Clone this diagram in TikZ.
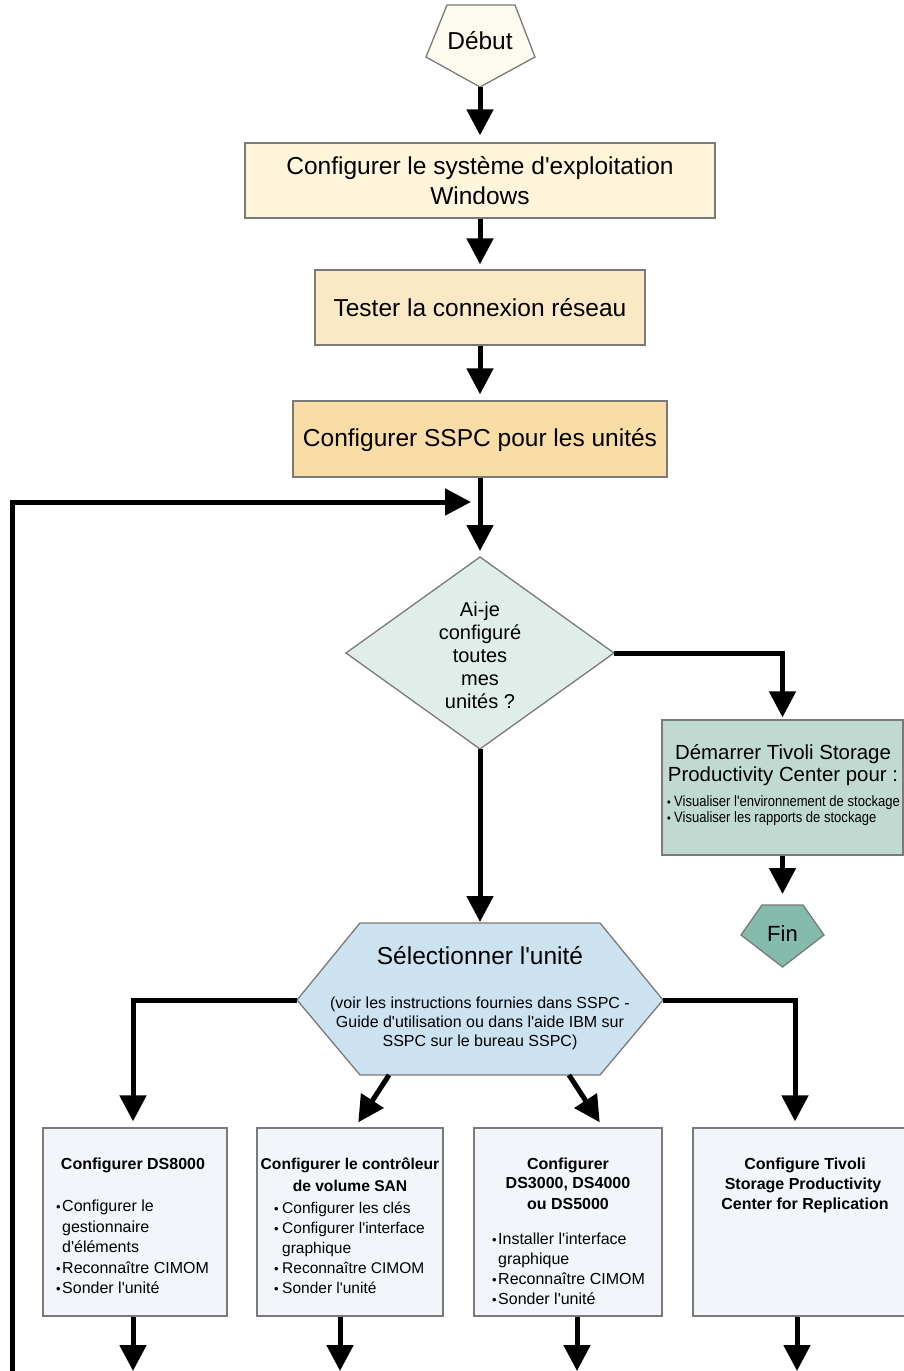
\documentclass[tikz,border=0pt]{standalone}
\usepackage{fontspec}
\setmainfont{Liberation Sans}[Ligatures=TeXOff]
\newfontfamily\narrowfont{Liberation Sans}[FakeStretch=0.87,Ligatures=TeXOff]
\usetikzlibrary{arrows.meta}
\newcommand\fsz[1]{\fontsize{#1}{#1}\selectfont}
\newcommand\bulA{\makebox[6pt][l]{\raisebox{0pt}{\fsz{13}•}}}
\newcommand\bulB{\makebox[8pt][l]{\raisebox{0pt}{\fsz{13}•}}}
\newcommand\bulN{\makebox[7pt][l]{\raisebox{0pt}{\fsz{12}•}}}
\definecolor{bordercol}{HTML}{7A7A7A}
\definecolor{debutfill}{HTML}{FDFBEF}
\definecolor{boxone}{HTML}{FEF5DA}
\definecolor{boxtwo}{HTML}{FBE9C6}
\definecolor{boxthree}{HTML}{F8DDA6}
\definecolor{diafill}{HTML}{E1EDE8}
\definecolor{demfill}{HTML}{C0DAD1}
\definecolor{finfill}{HTML}{84BBAC}
\definecolor{hexfill}{HTML}{CDE2F1}
\definecolor{lowfill}{HTML}{F2F5FA}
\tikzset{
  shapeline/.style={draw=bordercol, line width=1.3pt},
  box/.style={shapeline, rectangle, inner sep=0pt},
  arr/.style={line width=5pt, -{Triangle[length=26pt,width=26pt]}},
  tc/.style={inner sep=0pt, anchor=base},
  tl/.style={inner sep=0pt, anchor=base west},
}
\begin{document}
\begin{tikzpicture}[x=1pt,y=-1pt]
\useasboundingbox[fill=white] (0,0) rectangle (904,1371);

% Debut
\draw[shapeline, fill=debutfill] (447,5) -- (515,5) -- (535,57) -- (480,87) coordinate (debutB) -- (426,57) -- cycle;
\node[tc] (debut) at (480,49) {\fsz{24.5}Début};

% top boxes
\node[box, fill=boxone, minimum width=470pt, minimum height=75pt] (box1) at (480,180.5) {};
\node[tc] (box1a) at (480,174) {\fsz{24.5}Configurer le système d'exploitation};
\node[tc] (box1b) at (480,204) {\fsz{24.5}Windows};

\node[box, fill=boxtwo, minimum width=330pt, minimum height=75pt] (box2) at (480,307.5) {};
\node[tc] (box2a) at (480,316) {\fsz{24.5}Tester la connexion réseau};

\node[box, fill=boxthree, minimum width=374pt, minimum height=76pt] (box3) at (480,439) {};
\node[tc] (box3a) at (480,446) {\fsz{24.5}Configurer SSPC pour les unités};

% decision diamond
\draw[shapeline, fill=diafill] (480,557) coordinate (dT) -- (614,653) coordinate (dR)
   -- (480,749) coordinate (dB) -- (346,653) coordinate (dL) -- cycle;
\node[tc] (dia1) at (480,616) {\fsz{20}Ai-je};
\node[tc] (dia2) at (480,639) {\fsz{20}configuré};
\node[tc] (dia3) at (480,662) {\fsz{20}toutes};
\node[tc] (dia4) at (480,685) {\fsz{20}mes};
\node[tc] (dia5) at (480,708) {\fsz{20}unités ?};

% Demarrer box
\node[box, fill=demfill, minimum width=241pt, minimum height=135pt] (dem) at (782.5,787.5) {};
\node[tc] (dem1) at (783,759) {\fsz{20.4}Démarrer Tivoli Storage};
\node[tc] (dem2) at (783,781) {\fsz{20.4}Productivity Center pour :};
\node[tl] (dem3) at (667,806) {\narrowfont\fsz{15}\bulN Visualiser l'environnement de stockage};
\node[tl] (dem4) at (667,822) {\narrowfont\fsz{15}\bulN Visualiser les rapports de stockage};

% Fin
\draw[shapeline, fill=finfill] (762,905) -- (803,905) -- (824,935) -- (782.5,967) -- (741,935) -- cycle;
\coordinate (finT) at (782.5,905);
\node[tc] (fin) at (782.5,941) {\fsz{22}Fin};

% hexagon
\draw[shapeline, fill=hexfill] (360,923) -- (600,923) -- (663,1000) coordinate (hR)
   -- (600,1075) -- (360,1075) -- (297,1000) coordinate (hL) -- cycle;
\coordinate (hT) at (480,923);
\coordinate (hBL) at (389,1075);
\coordinate (hBR) at (569,1075);
\node[tc] (hex1) at (480,964) {\fsz{24.5}Sélectionner l'unité};
\node[tc] (hex2) at (480,1008) {\fsz{16}(voir les instructions fournies dans SSPC -};
\node[tc] (hex3) at (480,1027) {\fsz{16}Guide d'utilisation ou dans l'aide IBM sur};
\node[tc] (hex4) at (480,1046) {\fsz{16}SSPC sur le bureau SSPC)};

% lower boxes
\node[box, fill=lowfill, minimum width=184pt, minimum height=188pt] (boxA) at (135,1222) {};
\node[box, fill=lowfill, minimum width=186pt, minimum height=188pt] (boxB) at (350,1222) {};
\node[box, fill=lowfill, minimum width=188pt, minimum height=188pt] (boxC) at (568,1222) {};
\node[box, fill=lowfill, minimum width=222pt, minimum height=188pt] (boxD) at (804,1222) {};

\node[tc] (a0) at (133,1169) {\fsz{16}\bfseries Configurer DS8000};
\node[tl] (a1) at (56,1211) {\fsz{16}\bulA Configurer le};
\node[tl] (a2) at (62,1232) {\fsz{16}gestionnaire};
\node[tl] (a3) at (62,1252) {\fsz{16}d'éléments};
\node[tl] (a4) at (56,1273) {\fsz{16}\bulA Reconnaître CIMOM};
\node[tl] (a5) at (56,1293) {\fsz{16}\bulA Sonder l'unité};

\node[tc] (b0) at (350,1169) {\fsz{15.6}\bfseries Configurer le contrôleur};
\node[tc] (b1) at (350,1191) {\fsz{15.6}\bfseries de volume SAN};
\node[tl] (b2) at (274,1213) {\fsz{15.5}\bulB Configurer les clés};
\node[tl] (b3) at (274,1233) {\fsz{15.5}\bulB Configurer l'interface};
\node[tl] (b4) at (282,1253) {\fsz{15.5}graphique};
\node[tl] (b5) at (274,1273) {\fsz{15.5}\bulB Reconnaître CIMOM};
\node[tl] (b6) at (274,1293) {\fsz{15.5}\bulB Sonder l'unité};

\node[tc] (c0) at (568,1169) {\fsz{16}\bfseries Configurer};
\node[tc] (c1) at (568,1188) {\fsz{16}\bfseries DS3000, DS4000};
\node[tc] (c2) at (568,1209) {\fsz{16}\bfseries ou DS5000};
\node[tl] (c3) at (492,1244) {\fsz{16}\bulA Installer l'interface};
\node[tl] (c4) at (498,1264) {\fsz{16}graphique};
\node[tl] (c5) at (492,1284) {\fsz{16}\bulA Reconnaître CIMOM};
\node[tl] (c6) at (492,1304) {\fsz{16}\bulA Sonder l'unité};

\node[tc] (d0) at (805,1169) {\fsz{16}\bfseries Configure Tivoli};
\node[tc] (d1) at (803,1189) {\fsz{16}\bfseries Storage Productivity};
\node[tc] (d2) at (805,1209) {\fsz{16}\bfseries Center for Replication};

% end coordinates
\coordinate (eA) at (133,1371);
\coordinate (eB) at (340,1371);
\coordinate (eC) at (577,1371);
\coordinate (eD) at (797,1371);
\coordinate (loopS) at (12,1371);
\coordinate (loopE) at (471,502);

% connectors
\draw[arr, shorten >=7pt] (debutB) -- (box1.north);
\draw[arr, shorten >=5pt] (box1.south) -- (box2.north);
\draw[arr, shorten >=6pt] (box2.south) -- (box3.north);
\draw[arr, shorten >=6pt] (box3.south) -- (dT);
\draw[arr] (loopS) |- (loopE);
\draw[arr, shorten >=2pt] (dR) -| (dem.north);
\draw[arr, shorten >=11pt] (dem.south) -- (finT);
\draw[arr, shorten >=1pt] (dB) -- (hT);
\draw[arr, shorten >=6pt] (hL) -| ([xshift=-2pt]boxA.north);
\draw[arr, shorten >=6pt] (hR) -| ([xshift=-9pt]boxD.north);
\draw[arr, shorten >=6pt] (hBL) -- ([xshift=5pt]boxB.north);
\draw[arr, shorten >=6pt] (hBR) -- ([xshift=35pt]boxC.north);
\draw[arr] (boxA.south -| eA) -- (eA);
\draw[arr] (boxB.south -| eB) -- (eB);
\draw[arr] (boxC.south -| eC) -- (eC);
\draw[arr] (boxD.south -| eD) -- (eD);
\end{tikzpicture}
\end{document}
